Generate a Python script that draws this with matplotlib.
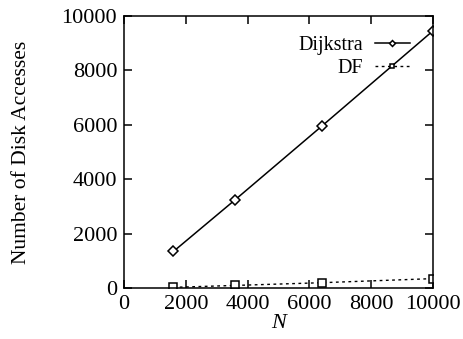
import matplotlib.pyplot as plt

plt.rcParams['font.family'] = ['Liberation Serif']

n_values = [1600, 3600, 6400, 10000]
dijkstra = [1350, 3250, 5950, 9450]
df = [30, 100, 200, 350]

fig = plt.figure(figsize=(4.63, 3.39), dpi=100)
ax = fig.add_axes([0.268, 0.150, 0.667, 0.803])

ax.plot(n_values, dijkstra, '-', color='black', lw=1.1,
        marker='D', markersize=5, markerfacecolor='white', markeredgewidth=1.1,
        label='Dijkstra')
ax.plot(n_values, df, color='black', lw=1.0, linestyle=(0, (2, 2.5)),
        marker='s', markersize=6, markerfacecolor='white', markeredgewidth=1.1,
        label='DF')

ax.set_xlim(0, 10000)
ax.set_ylim(0, 10000)
ax.set_xticks(range(0, 10001, 2000))
ax.set_yticks(range(0, 10001, 2000))
ax.tick_params(direction='in', top=True, right=True, labelsize=16, length=6,
               width=1.1, pad=5)
for s in ax.spines.values():
    s.set_linewidth(1.1)
ax.set_xlabel('N', fontsize=16, style='italic', labelpad=0)
ax.set_ylabel('Number of Disk Accesses', fontsize=15.5)
ax.yaxis.set_label_coords(-0.30, 0.5)

ax.legend(loc='upper right', frameon=False, markerfirst=False, fontsize=14.5,
          handlelength=1.75, handletextpad=0.6, borderaxespad=0, borderpad=0,
          labelspacing=0.15, markerscale=0.6,
          bbox_to_anchor=(0.926, 0.925))

fig.savefig('out.png', dpi=100)
